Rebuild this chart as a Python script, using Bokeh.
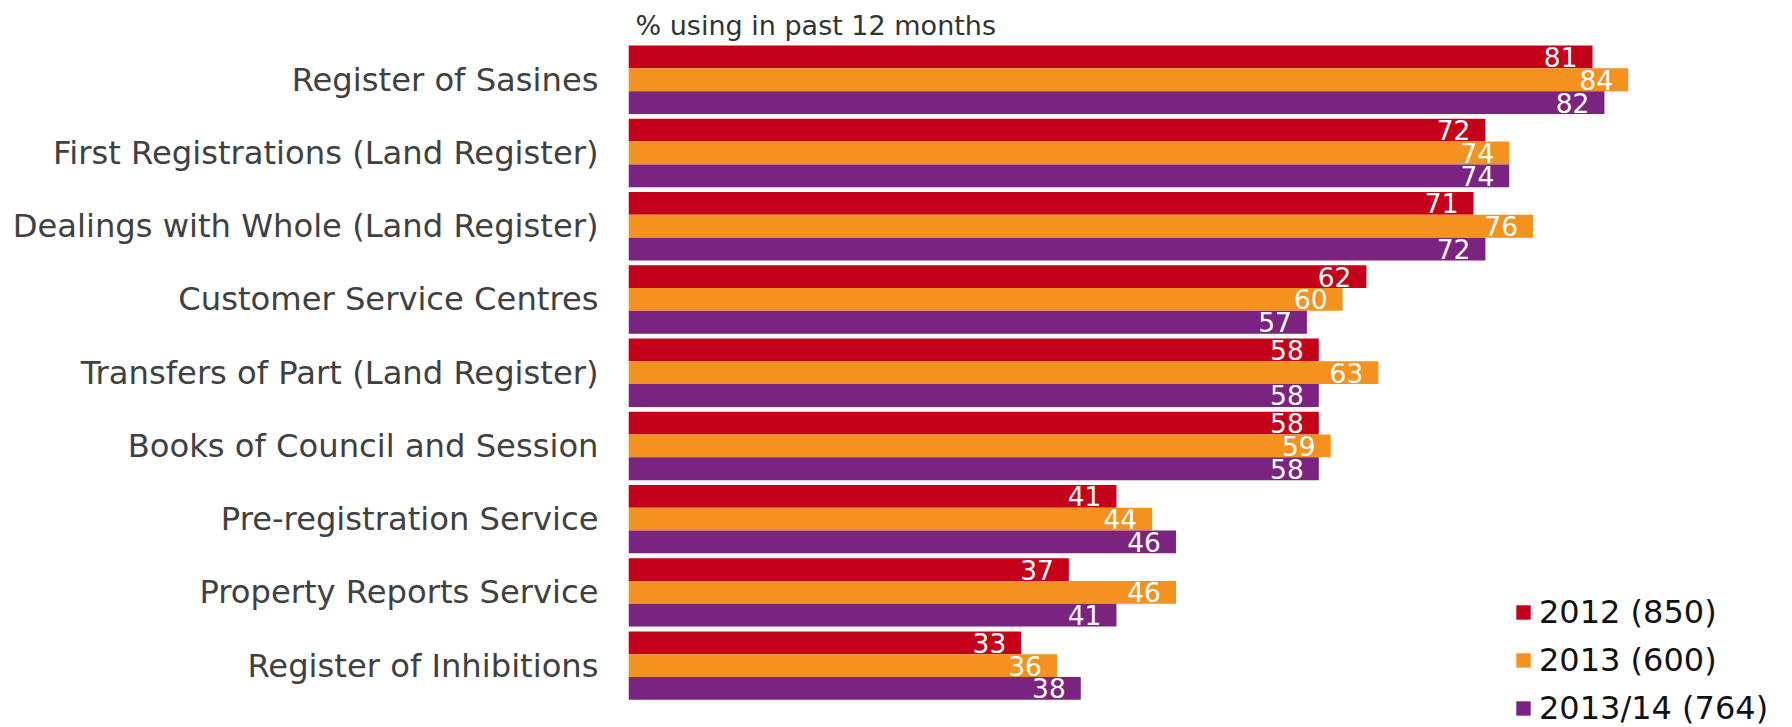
from bokeh.plotting import figure
from bokeh.models import Range1d, ColumnDataSource, Legend, LegendItem, FixedTicker
from bokeh.core.properties import value
from bokeh.embed import file_html
from bokeh.resources import INLINE

categories = [
    "Register of Sasines",
    "First Registrations (Land Register)",
    "Dealings with Whole (Land Register)",
    "Customer Service Centres",
    "Transfers of Part (Land Register)",
    "Books of Council and Session",
    "Pre-registration Service",
    "Property Reports Service",
    "Register of Inhibitions",
]
v2012 = [81, 72, 71, 62, 58, 58, 41, 37, 33]
v2013 = [84, 74, 76, 60, 63, 59, 44, 46, 36]
v1314 = [82, 74, 72, 57, 58, 58, 46, 41, 38]
series_names = ["2012 (850)", "2013 (600)", "2013/14 (764)"]
colors = ["#C5001A", "#F5921F", "#7B2380"]

FONT = "DejaVu Sans"
BAR_H = 0.311
n = len(categories)
ypos = [n - 1 - i for i in range(n)]  # top category highest

offsets = [BAR_H, 0.0, -BAR_H]
series = [v2012, v2013, v1314]

p = figure(
    width=1792, height=727,
    y_range=Range1d(-0.844, 8.495),
    x_range=Range1d(0, 97.8),
    output_backend="svg", toolbar_location=None,
    min_border_left=628, min_border_right=0, min_border_top=43, min_border_bottom=0,
    title="% using in past 12 months",
)
p.outline_line_color = None
p.grid.grid_line_color = None
p.xaxis.visible = False

ya = p.yaxis[0]
ya.ticker = FixedTicker(ticks=ypos)
ya.major_label_overrides = {y: c for y, c in zip(ypos, categories)}
ya.axis_line_color = None
ya.major_tick_line_color = None
ya.minor_tick_line_color = None
ya.major_tick_out = 0
ya.major_tick_in = 0
ya.major_label_standoff = 30
ya.major_label_text_font = FONT
ya.major_label_text_font_size = "32.2px"
ya.major_label_text_color = "#404040"

p.title.text_font = FONT
p.title.text_font_size = "27px"
p.title.text_font_style = "normal"
p.title.text_color = "#333333"
p.title.offset = 7
p.title.standoff = 6

renderers = []
for i in range(3):
    src = ColumnDataSource(dict(
        y=[y + offsets[i] for y in ypos],
        v=series[i],
        lbl=[str(v) for v in series[i]],
    ))
    r = p.hbar(y="y", left=0, right="v", height=BAR_H,
               fill_color=colors[i], line_color=None, source=src)
    renderers.append(r)
    p.text(x="v", y="y", text="lbl", source=src,
           text_align="right", text_baseline="middle", x_offset=-15,
           text_color="white", text_font_size="26.5px", text_font=value(FONT))

legend = Legend(
    items=[LegendItem(label=series_names[i], renderers=[renderers[i]]) for i in range(3)],
    location=(886, 0),
    padding=0, margin=0, spacing=10,
    glyph_width=18, glyph_height=18, label_height=36, label_standoff=7,
    label_text_font=FONT, label_text_font_size="32px", label_text_color="#111111",
    border_line_color=None, background_fill_alpha=0,
)
p.add_layout(legend)

open("out.html", "w").write(file_html(p, INLINE))
